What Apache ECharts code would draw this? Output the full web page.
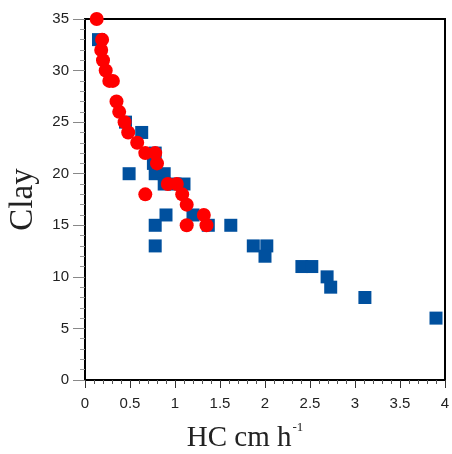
<!DOCTYPE html>
<html><head><meta charset="utf-8">
<script src="https://cdn.jsdelivr.net/npm/echarts@6/dist/echarts.min.js"></script>
<style>html,body{margin:0;padding:0;background:#fff}#c{width:452px;height:454px}</style>
</head><body><div id="c"></div>
<script>
var blueX = [0.15,0.45,0.63,0.49,0.78,0.76,0.78,0.88,0.88,1.1,1.0,0.9,0.78,0.78,1.2,1.37,1.62,1.87,2.02,2.0,2.41,2.52,2.69,2.73,3.11,3.9];
var blueY = [33,25,24,20,22,21,20,20,19,19,19,16,15,13,16,15,15,13,13,12,11,11,10,9,8,6];
var redX = [0.13,0.19,0.18,0.2,0.23,0.27,0.31,0.35,0.38,0.44,0.48,0.58,0.67,0.78,0.8,0.67,0.92,1.02,1.08,1.13,1.32,1.13,1.35];
var redY = [35,33,32,31,30,29,29,27,26,25,24,23,22,22,21,18,19,19,18,17,16,15,15];
var xTicks = [0,0.5,1,1.5,2,2.5,3,3.5,4];
var yTicks = [0,5,10,15,20,25,30,35];

function zip(a,b){return a.map(function(v,i){return [v,b[i]];});}
var chart = echarts.init(document.getElementById('c'));
chart.setOption({
  animation:false,
  grid:{left:85,top:19,right:7,bottom:74,outerBoundsMode:'none',containLabel:false,show:true,borderColor:'#000',borderWidth:2,backgroundColor:'transparent'},
  xAxis:{type:'value',min:xTicks[0],max:xTicks[xTicks.length-1],interval:0.5,
    name:'{a|HC cm h}{s|-1}',nameLocation:'middle',nameGap:41,
    nameTextStyle:{padding:[0,40,0,0],rich:{a:{fontFamily:'Liberation Serif',fontSize:29,color:'#222',verticalAlign:'bottom',lineHeight:32},s:{fontFamily:'Liberation Serif',fontSize:13,color:'#222',verticalAlign:'top',lineHeight:32,padding:[0,0,16,1]}}},
    axisLine:{show:true,onZero:false,lineStyle:{color:'#000',width:2}},
    axisTick:{show:true,length:8,lineStyle:{color:'#333',width:1}},
    minorTick:{show:true,splitNumber:5,length:4,lineStyle:{color:'#555',width:1}},
    splitLine:{show:false},
    axisLabel:{fontFamily:'Liberation Sans',fontSize:15,color:'#222',margin:16,
      formatter:function(v){return String(v);}}
  },
  yAxis:{type:'value',min:yTicks[0],max:yTicks[yTicks.length-1],interval:5,
    name:'Clay',nameLocation:'middle',nameGap:45,
    nameTextStyle:{fontFamily:'Liberation Serif',fontSize:33,color:'#222'},
    axisLine:{show:true,onZero:false,lineStyle:{color:'#000',width:2}},
    axisTick:{show:true,length:12,lineStyle:{color:'#888',width:1}},
    minorTick:{show:true,splitNumber:5,length:5,lineStyle:{color:'#999',width:1}},
    splitLine:{show:false},
    axisLabel:{fontFamily:'Liberation Sans',fontSize:15,color:'#222',margin:16}
  },
  series:[
    {type:'scatter',data:zip(blueX,blueY),symbol:'rect',symbolSize:13,itemStyle:{color:'#00509e',opacity:1},z:2},
    {type:'scatter',data:zip(redX,redY),symbol:'circle',symbolSize:14,itemStyle:{color:'#ff0000',opacity:1},z:3,clip:false}
  ]
});
</script></body></html>
